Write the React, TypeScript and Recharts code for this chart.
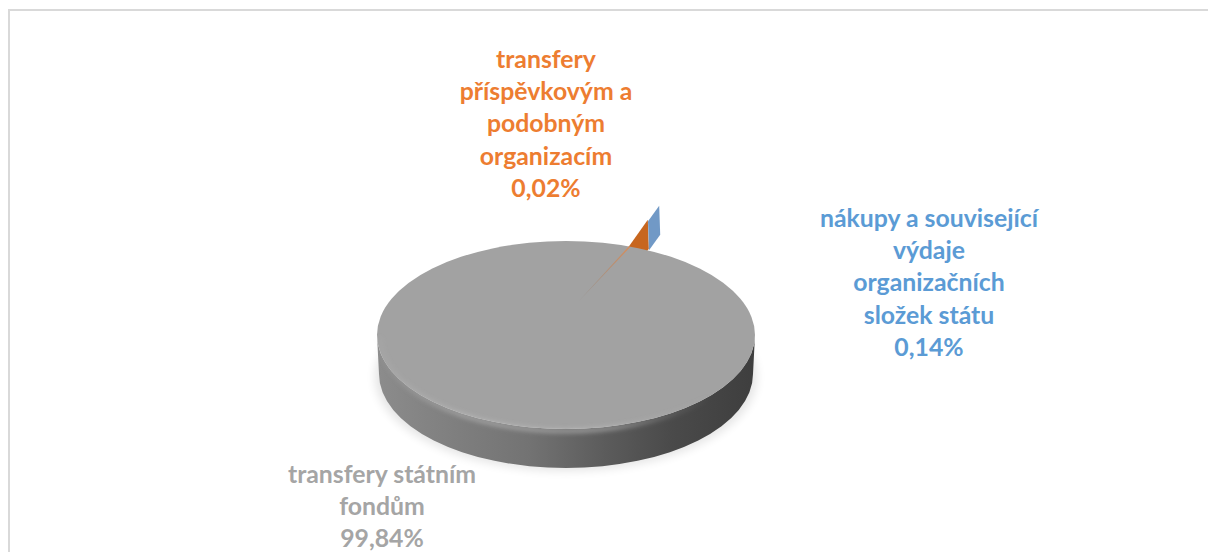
import { PieChart, Pie } from 'recharts'

const SLICE_NAMES = ['transfery příspěvkovým a podobným organizacím', 'nákupy a související výdaje organizačních složek státu', 'transfery státním fondům']
const SLICE_VALUES = [0.02, 0.14, 99.84]
const LABEL_LINES = [
  ['transfery', 'příspěvkovým a', 'podobným', 'organizacím'],
  ['nákupy a související', 'výdaje', 'organizačních', 'složek státu'],
  ['transfery státním', 'fondům'],
]
const LABEL_COLORS = ['#ED7D31', '#5B9BD5', '#A5A5A5']
const LABEL_X = [546, 929, 382]
const LABEL_Y = [68, 227, 483]
const LINE_HEIGHT = 32.2

const WALL_COLORS = ['#C7661F', '#7199C6']
// how far the exploded slices stick out past the rim
const WALL_FROM = [0.97, 1.285]
const WALL_TO = [1.3, 1.46]
const WALL_DROP = 29

const WIDTH = 1208
const HEIGHT = 552
const CX = 566
const CY = 335
const RX = 189
const RY = 94
const DEPTH = 39
const START_ANGLE = 70.58

const chartData = SLICE_NAMES.map((name, i) => ({ name, value: SLICE_VALUES[i] }))

const RAD = Math.PI / 180

function onRim(cx: number, cy: number, rx: number, angle: number) {
  return {
    x: cx + rx * Math.cos(angle * RAD),
    y: cy - rx * (RY / RX) * Math.sin(angle * RAD),
  }
}

function pts(list: { x: number; y: number }[]) {
  return list.map((p) => `${p.x.toFixed(1)},${p.y.toFixed(1)}`).join(' ')
}

function SliceShape(props: any) {
  const { cx, cy, outerRadius, midAngle, startAngle, endAngle, index } = props
  const rx = outerRadius
  const ry = outerRadius * (RY / RX)

  if (index < 2) {
    const a = onRim(cx, cy, rx * WALL_FROM[index], midAngle)
    const b = onRim(cx, cy, rx * WALL_TO[index], midAngle)
    const poly = [a, b, { x: b.x + 1, y: b.y + WALL_DROP }, { x: a.x + 1, y: a.y + WALL_DROP }]
    return <polygon points={pts(poly)} fill={WALL_COLORS[index]} />
  }

  const l = cx - rx
  const r = cx + rx
  const side = `M${l},${cy} L${l + 2},${cy + DEPTH} A${rx - 2} ${ry} 0 0 0 ${r - 2},${cy + DEPTH} L${r},${cy} A${rx} ${ry} 0 0 1 ${l},${cy} Z`

  // gap the big slice leaves is where the two small slices run to the centre
  const gapA = onRim(cx, cy, rx, startAngle)
  const gapB = onRim(cx, cy, rx, endAngle)
  const apex = { x: cx + 12, y: cy - 33 }

  return (
    <g>
      <defs>
        <linearGradient id="sideFill" x1={l} x2={r} y1={0} y2={0} gradientUnits="userSpaceOnUse">
          <stop offset="0" stopColor="#8C8C8C" />
          <stop offset="0.12" stopColor="#848484" />
          <stop offset="0.4" stopColor="#737373" />
          <stop offset="0.6" stopColor="#5C5C5C" />
          <stop offset="0.78" stopColor="#4A4A4A" />
          <stop offset="1" stopColor="#3E3E3E" />
        </linearGradient>
        <linearGradient id="rimLight" x1={l} x2={r} y1={0} y2={0} gradientUnits="userSpaceOnUse">
          <stop offset="0" stopColor="#BEBEBE" stopOpacity="0.15" />
          <stop offset="0.22" stopColor="#C8C8C8" stopOpacity="0.75" />
          <stop offset="0.62" stopColor="#C8C8C8" stopOpacity="0.75" />
          <stop offset="0.88" stopColor="#B0B0B0" stopOpacity="0" />
        </linearGradient>
        <linearGradient id="sliver" x1={apex.x} y1={apex.y} x2={gapA.x} y2={gapA.y} gradientUnits="userSpaceOnUse">
          <stop offset="0" stopColor="#8A8078" stopOpacity="0.5" />
          <stop offset="1" stopColor="#E08A50" stopOpacity="0.85" />
        </linearGradient>
        <filter id="soft" x="-5%" y="-5%" width="110%" height="110%">
          <feGaussianBlur stdDeviation="0.7" />
        </filter>
        <filter id="softer" x="-5%" y="-10%" width="110%" height="120%">
          <feGaussianBlur stdDeviation="2.4" />
        </filter>
        <filter id="shadow" x="-10%" y="-20%" width="120%" height="140%">
          <feGaussianBlur stdDeviation="5" />
        </filter>
      </defs>
      <ellipse cx={cx} cy={cy + DEPTH + 3} rx={rx + 2} ry={ry} fill="#000" opacity="0.1" filter="url(#shadow)" />
      <path d={side} fill="url(#sideFill)" />
      <ellipse cx={cx} cy={cy} rx={rx} ry={ry} fill="#A2A2A2" filter="url(#soft)" />
      <path
        d={`M${l + 3},${cy + 3} A${rx - 3} ${ry - 1} 0 0 0 ${r - 3},${cy + 3}`}
        fill="none"
        stroke="url(#rimLight)"
        strokeWidth="3"
        filter="url(#softer)"
      />
      <polygon points={pts([apex, gapA, gapB])} fill="url(#sliver)" />
    </g>
  )
}

function renderLabel(props: any) {
  const { index, value } = props
  const lines = [...LABEL_LINES[index], `${value.toFixed(2).replace('.', ',')}%`]
  return (
    <text
      key={index}
      x={LABEL_X[index]}
      y={LABEL_Y[index]}
      textAnchor="middle"
      fill={LABEL_COLORS[index]}
      fontFamily="Lato, sans-serif"
      fontWeight={700}
      fontSize={24.8}
    >
      {lines.map((line, i) => (
        <tspan key={i} x={LABEL_X[index]} y={LABEL_Y[index] + i * LINE_HEIGHT}>
          {line}
        </tspan>
      ))}
    </text>
  )
}

export default function App() {
  return (
    <div style={{ position: 'absolute', left: 0, top: 0, width: WIDTH, height: HEIGHT, overflow: 'hidden', background: '#fff' }}>
      <div
        style={{
          position: 'absolute',
          left: 8,
          top: 9,
          width: WIDTH,
          height: HEIGHT,
          borderLeft: '2px solid #D9D9D9',
          borderTop: '2px solid #D9D9D9',
        }}
      />
      <div style={{ position: 'absolute', left: 0, top: 0 }}>
        <PieChart width={WIDTH} height={HEIGHT} margin={{ top: 0, right: 0, bottom: 0, left: 0 }}>
          <Pie
            data={chartData}
            dataKey="value"
            nameKey="name"
            cx={CX}
            cy={CY}
            innerRadius={0}
            outerRadius={RX}
            startAngle={START_ANGLE}
            endAngle={START_ANGLE - 360}
            stroke="none"
            shape={SliceShape}
            label={renderLabel}
            labelLine={false}
            isAnimationActive={false}
          />
        </PieChart>
      </div>
    </div>
  )
}
